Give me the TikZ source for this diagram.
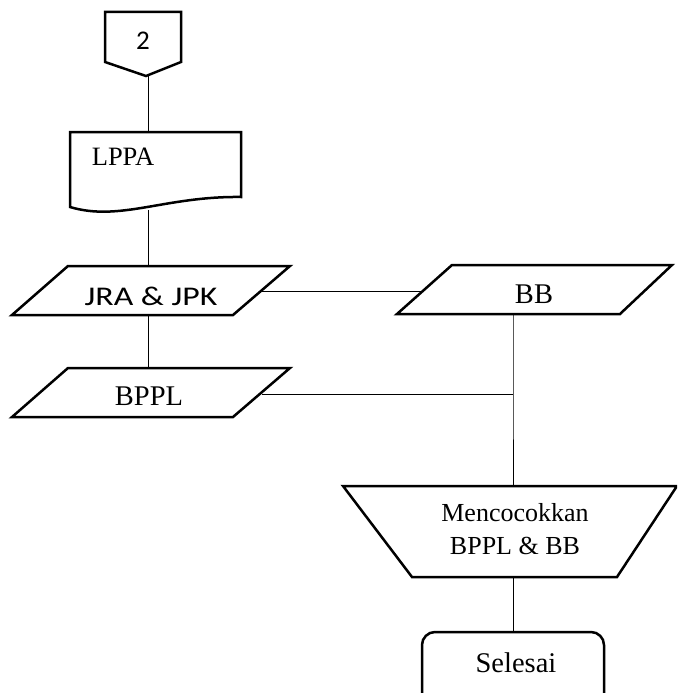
\documentclass[tikz,border=0pt]{standalone}
\usepackage{fontspec}
\setmainfont{Liberation Serif}
\newfontfamily\calib{Carlito}
\newfontfamily\calibwide[FakeStretch=1.25]{Carlito}
\begin{document}
\begin{tikzpicture}[x=1pt,y=-1pt,
  shapeline/.style={line width=2.5pt,line join=miter},
  link/.style={line width=0.9pt},
  serifText/.style={inner sep=0pt,font=\fontsize{28.5}{36}\selectfont},
  sansText/.style={inner sep=0pt,font=\calib\fontsize{27}{32}\selectfont}]
\useasboundingbox (0,0) rectangle (677,693);
\clip (0,0) rectangle (677,693);

% off-page connector
\draw[shapeline] (105,12) -- (181,12) -- (181,62) -- (146,76) -- (105,62) -- cycle;
\node[sansText] (conn) at (143,41) {2};
\coordinate (connB) at (148,75);

% document LPPA
\draw[shapeline] (70,132) -- (241,132) -- (241,197)
  .. controls (165,196) and (120,222) .. (70,207) -- cycle;
\node[serifText,font=\fontsize{26.5}{32}\selectfont] (lppa) at (123,157) {LPPA};
\coordinate (lppaT) at (148,132);
\coordinate (lppaB) at (148,210);

% input JRA & JPK
\draw[shapeline] (68,266) -- (290,266) -- (233,315) -- (12,315) -- cycle;
\node[sansText,font=\calibwide\fontsize{27}{32}\selectfont] (jra) at (151,296) {JRA \& JPK};
\coordinate (jraT) at (148,266);
\coordinate (jraB) at (148,315);
\coordinate (jraR) at (262,291);

% input BPPL
\draw[shapeline] (68,368) -- (290,368) -- (233,417) -- (12,417) -- cycle;
\node[serifText] (bppl) at (149,396) {BPPL};
\coordinate (bpplT) at (148,368);
\coordinate (bpplR) at (262,394);

% input BB
\draw[shapeline] (452,265) -- (672,265) -- (620,314) -- (397,314) -- cycle;
\node[serifText] (bb) at (534,294) {BB};
\coordinate (bbL) at (424,291);
\coordinate (bbB) at (513,314);
\coordinate (join) at (513,394);

% manual operation
\draw[shapeline] (343,486) -- (677,486) -- (617,577) -- (412,577) -- cycle;
\node[serifText,font=\fontsize{26}{33}\selectfont,align=center] (match) at (515,529)
  {Mencocokkan\\BPPL \& BB};
\coordinate (matchT) at (513,486);
\coordinate (matchB) at (513,577);

% terminator
\draw[shapeline,rounded corners=13pt] (422,632) rectangle (604,720);
\node[serifText] (end) at (516,663) {Selesai};
\coordinate (endT) at (513,632);

% connectors
\draw[link] (connB) -- (lppaT);
\draw[link] (lppaB) -- (jraT);
\draw[link] (jraB) -- (bpplT);
\draw[link] (jraR) -- (bbL);
\draw[link] (bbB) -- (join) -- (matchT);
\draw[link] (bpplR) -- (join);
\draw[link] (matchB) -- (endT);
\end{tikzpicture}
\end{document}
